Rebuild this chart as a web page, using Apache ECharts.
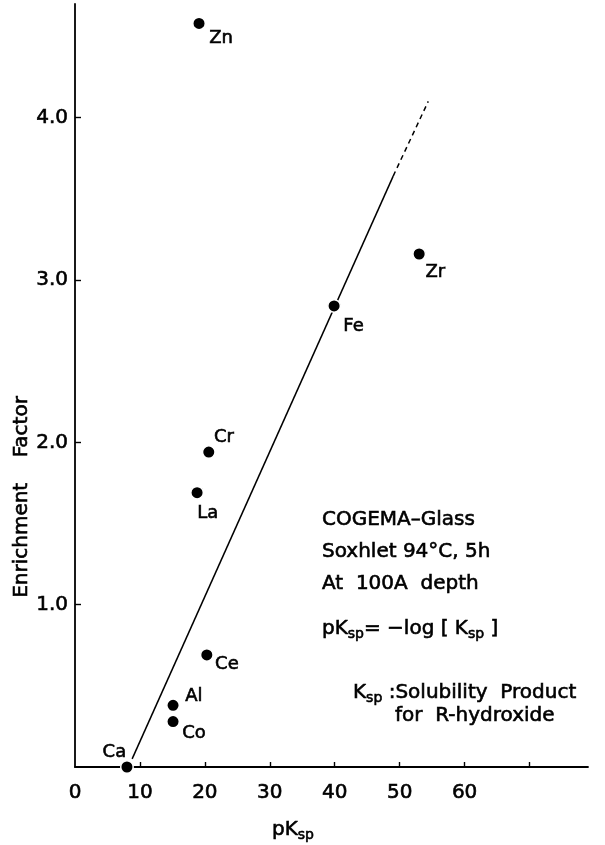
<!DOCTYPE html>
<html>
<head>
<meta charset="utf-8">
<title>Enrichment Factor vs pKsp</title>
<script src="https://cdn.jsdelivr.net/npm/echarts@6/dist/echarts.min.js"></script>
<style>
  html, body { margin: 0; padding: 0; background: #fff; }
  #chart { width: 605px; height: 845px; }
</style>
</head>
<body>
<div id="chart"></div>
<script>
// Elements measured on COGEMA glass (Soxhlet 94°C, 5h, 100A depth)
const elements   = ['Ca', 'Co', 'Al', 'Ce', 'La', 'Cr', 'Fe', 'Zr', 'Zn'];
const pKsp       = [8.0, 15.1, 15.1, 20.3, 18.8, 20.6, 39.9, 53.0, 19.1];
const enrichment = [0.0, 0.28, 0.38, 0.69, 1.69, 1.94, 2.84, 3.16, 4.58];

// Trend line (solid part) and its dashed extrapolation
const trendPK     = [8.8, 49.0];
const trendEF     = [0.05, 3.64];
const extendPK    = [49.0, 54.4];
const extendEF    = [3.64, 4.10];

// Axis ticks and labels
const xTickValues  = [10, 20, 30, 40, 50, 60, 70];
const xLabelValues = [0, 10, 20, 30, 40, 50, 60];
const yTickValues  = [1, 2, 3, 4];

// Label placement around each dot: [dx to text edge, dy to text middle, align]
const labelPlacement = {
  Ca: [0, -14, 'right'],
  Co: [10, 13, 'left'],
  Al: [13, -8, 'left'],
  Ce: [9, 10, 'left'],
  La: [1, 21, 'left'],
  Cr: [6, -14, 'left'],
  Fe: [10, 21, 'left'],
  Zr: [7, 19, 'left'],
  Zn: [11, 16, 'left']
};

const FONT = '"DejaVu Sans", "Liberation Sans", sans-serif';
const INK = '#000';
const STROKE = 0.6;   // thin outline to give the type a heavier, printed look
const DOT = 12.5;

const points = elements.map((name, i) => {
  const p = labelPlacement[name];
  return {
    name: name,
    value: [pKsp[i], enrichment[i]],
    label: {
      show: true,
      formatter: name,
      position: [DOT / 2 + p[0], DOT / 2 + p[1]],
      align: p[2],
      verticalAlign: 'middle',
      fontFamily: FONT,
      fontSize: 18,
      color: INK,
      textBorderColor: INK,
      textBorderWidth: STROKE
    }
  };
});

const chart = echarts.init(document.getElementById('chart'));

const main = { fontSize: 20, fontFamily: FONT, fill: INK, stroke: INK, lineWidth: STROKE };
const sub = { fontSize: 14, fontFamily: FONT, fill: INK, stroke: INK, lineWidth: STROKE,
              padding: [10, 0, 0, 0] };

function note(text, x, y) {
  return {
    type: 'text', x: x, y: y, z: 10,
    style: {
      text: text,
      fontSize: 20, fontFamily: FONT, fill: INK,
      stroke: INK, lineWidth: STROKE,
      align: 'left', verticalAlign: 'middle',
      rich: { m: main, s: sub }
    }
  };
}

const tickFont = {
  color: INK, fontFamily: FONT, fontSize: 20,
  textBorderColor: INK, textBorderWidth: STROKE
};

chart.setOption({
  animation: false,
  backgroundColor: '#fff',
  grid: { left: 75, top: 4, width: 513, height: 763 },
  xAxis: {
    type: 'value',
    min: 0, max: 79,
    splitLine: { show: false },
    axisLine: { show: true, onZero: false, lineStyle: { color: INK, width: 1.8 } },
    axisTick: { show: true, inside: true, length: 5, customValues: xTickValues,
                lineStyle: { color: INK, width: 1.4 } },
    axisLabel: Object.assign({ customValues: xLabelValues, margin: 16 }, tickFont)
  },
  yAxis: {
    type: 'value',
    min: 0, max: 4.7,
    splitLine: { show: false },
    axisLine: { show: true, onZero: false, lineStyle: { color: INK, width: 1.8 } },
    axisTick: { show: true, inside: true, length: 6, customValues: yTickValues,
                lineStyle: { color: INK, width: 1.4 } },
    axisLabel: Object.assign({ customValues: yTickValues, margin: 7,
                               formatter: v => v.toFixed(1) }, tickFont)
  },
  series: [
    {
      type: 'line',
      data: trendPK.map((x, i) => [x, trendEF[i]]),
      showSymbol: false, symbol: 'none',
      lineStyle: { color: INK, width: 1.5 },
      z: 2
    },
    {
      type: 'line',
      data: extendPK.map((x, i) => [x, extendEF[i]]),
      showSymbol: false, symbol: 'none',
      lineStyle: { color: INK, width: 1.5, type: [5, 4] },
      z: 2
    },
    {
      type: 'scatter',
      data: points,
      symbol: 'circle',
      symbolSize: DOT,
      itemStyle: { color: INK, opacity: 1, borderColor: '#fff', borderWidth: 1.5 },
      z: 5
    }
  ],
  graphic: [
    {
      type: 'text', x: 22, y: 497, rotation: Math.PI / 2,
      style: {
        text: 'Enrichment    Factor',
        fontSize: 20, fontFamily: FONT, fill: INK,
        stroke: INK, lineWidth: STROKE,
        align: 'center', verticalAlign: 'middle'
      }
    },
    note('{m|pK}{s|sp}', 272, 830),
    note('COGEMA–Glass', 322, 520),
    note('Soxhlet 94°C, 5h', 322, 552),
    note('At  100A  depth', 322, 584),
    note('{m|pK}{s|sp}{m|= −log [ K}{s|sp}{m| ]}', 322, 629),
    note('{m|K}{s|sp}{m| :Solubility  Product}', 353, 693),
    note('for  R-hydroxide', 395, 716)
  ]
});
</script>
</body>
</html>
